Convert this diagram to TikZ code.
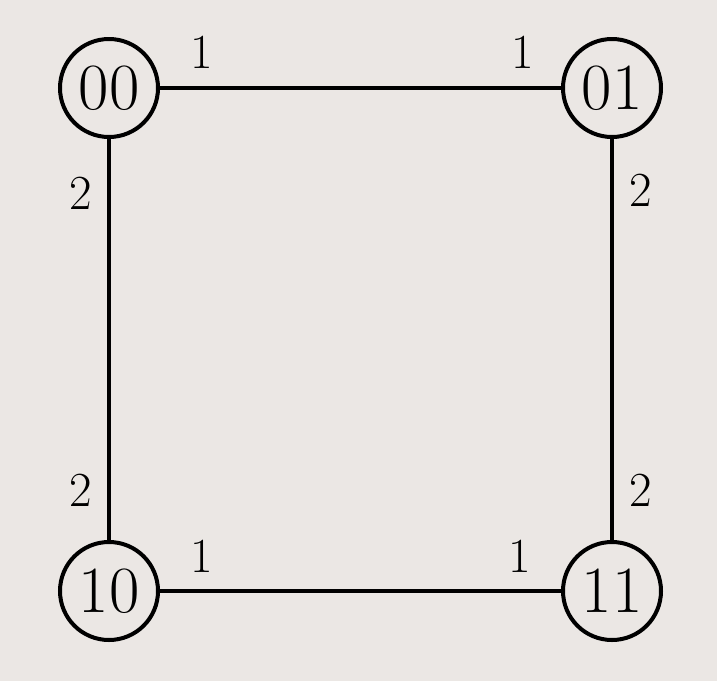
\documentclass[tikz,border=0pt]{standalone}
\usepackage{fontspec}
\definecolor{bgc}{HTML}{EBE7E4}
\begin{document}
\begin{tikzpicture}[x=1pt,y=-1pt,
  state/.style={circle,draw,line width=4pt,minimum size=98pt,inner sep=0pt,font=\fontsize{66}{66}\selectfont},
  wlabel/.style={font=\fontsize{49}{49}\selectfont,inner sep=0pt},
  edge/.style={line width=4pt}]
\fill[bgc] (0,0) rectangle (717,681);
\useasboundingbox (0,0) rectangle (717,681);
\node[state] (a) at (109,88) {00};
\node[state] (b) at (612,88) {01};
\node[state] (c) at (109,591) {10};
\node[state] (d) at (612,591) {11};
\draw[edge] (a) -- (b);
\draw[edge] (c) -- (d);
\draw[edge] (a) -- (c);
\draw[edge] (b) -- (d);
\node[wlabel] (l1) at (202,52) {1};
\node[wlabel] (l2) at (523,52) {1};
\node[wlabel] (l3) at (202,556) {1};
\node[wlabel] (l4) at (520,556) {1};
\node[wlabel] (l5) at (81,193) {2};
\node[wlabel] (l6) at (641,190) {2};
\node[wlabel] (l7) at (81,490) {2};
\node[wlabel] (l8) at (641,490) {2};
\end{tikzpicture}
\end{document}
